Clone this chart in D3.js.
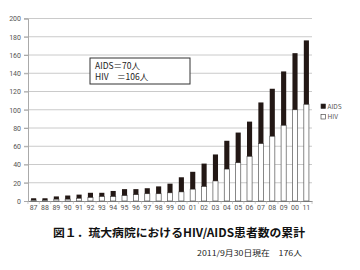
<!DOCTYPE html>
<html>
<head>
<meta charset="utf-8">
<script src="https://cdn.jsdelivr.net/npm/d3@7"></script>
<style>
  body { margin: 0; background: #fff; }
  svg text { font-family: "Noto Sans CJK JP", "Noto Sans", sans-serif; }
</style>
</head>
<body>
<svg id="chart" width="360" height="270"></svg>
<script>
// year labels (the 2010 column is labelled "00" in the original too)
var years = ["87","88","89","90","91","92","93","94","95","96","97","98","99",
             "00","01","02","03","04","05","06","07","08","09","00b","11"];
var hiv  = [1, 1, 2, 2, 3, 4, 5, 5, 6, 7, 8, 8, 9, 10, 13, 16, 22, 35, 42, 49, 63, 71, 83, 100, 106];
var aids = [2, 2, 3, 4, 4, 5, 4, 6, 7, 6, 6, 8, 10, 16, 19, 25, 29, 31, 33, 38, 45, 52, 59, 62, 70];
var yTicks = [0, 20, 40, 60, 80, 100, 120, 140, 160, 180, 200];

var svg = d3.select("#chart");
var margin = {top: 18.5, left: 28, right: 48, bottom: 69};
var width = 360 - margin.left - margin.right,
    height = 270 - margin.top - margin.bottom;

var g = svg.append("g")
  .attr("transform", "translate(" + margin.left + "," + margin.top + ")");

var x = d3.scaleBand().domain(years).range([0, width]).paddingInner(0.55).paddingOuter(0.27);
var y = d3.scaleLinear().domain([0, 200]).range([height, 0]);

// gridlines
g.selectAll("line.grid")
  .data(yTicks.slice(1))
  .enter().append("line")
  .attr("class", "grid")
  .attr("x1", -4).attr("x2", width)
  .attr("y1", function(d) { return y(d); })
  .attr("y2", function(d) { return y(d); })
  .attr("stroke", "#bdbdbd").attr("stroke-width", 0.8);

// y axis
var yAxis = g.append("g").call(d3.axisLeft(y).tickValues(yTicks).tickSize(4).tickPadding(3));
yAxis.select(".domain").attr("stroke", "#aaa");
yAxis.selectAll(".tick line").attr("stroke", "#aaa");
yAxis.selectAll("text").attr("fill", "#555").style("font-size", "7px").style("font-family", "Roboto, sans-serif");

// x axis
var xAxis = g.append("g")
  .attr("transform", "translate(0," + height + ")")
  .call(d3.axisBottom(x).tickSize(0).tickPadding(4)
    .tickFormat(function(d) { return d.slice(0, 2); }));
xAxis.select(".domain").attr("stroke", "#888");
xAxis.selectAll("text").attr("fill", "#555").style("font-size", "7px").style("font-family", "Roboto, sans-serif");

// small ticks between categories
var step = x.step();
g.selectAll("line.xt")
  .data(years.concat(["end"]))
  .enter().append("line")
  .attr("class", "xt")
  .attr("x1", function(d, i) { return x(years[0]) - x.bandwidth() * 0 - (step - x.bandwidth()) / 2 + i * step; })
  .attr("x2", function(d, i) { return x(years[0]) - (step - x.bandwidth()) / 2 + i * step; })
  .attr("y1", height).attr("y2", height + 3)
  .attr("stroke", "#aaa").attr("stroke-width", 0.6);

// HIV (white) bars
g.selectAll("rect.hiv")
  .data(years)
  .enter().append("rect")
  .attr("class", "hiv")
  .attr("x", function(d) { return x(d); })
  .attr("width", x.bandwidth())
  .attr("y", function(d, i) { return y(hiv[i]); })
  .attr("height", function(d, i) { return y(0) - y(hiv[i]); })
  .attr("fill", "#fff").attr("stroke", "#555").attr("stroke-width", 0.7);

// AIDS (black) bars stacked on top
g.selectAll("rect.aids")
  .data(years)
  .enter().append("rect")
  .attr("class", "aids")
  .attr("x", function(d) { return x(d); })
  .attr("width", x.bandwidth())
  .attr("y", function(d, i) { return y(hiv[i] + aids[i]); })
  .attr("height", function(d, i) { return y(hiv[i]) - y(hiv[i] + aids[i]); })
  .attr("fill", "#231815");

// info box
var box = svg.append("g").attr("transform", "translate(90,58)");
box.append("rect").attr("width", 100).attr("height", 26)
  .attr("fill", "#fff").attr("stroke", "#333").attr("stroke-width", 1);
box.append("text").attr("x", 5).attr("y", 11).attr("font-size", 8.5).attr("fill", "#222")
  .text("AIDS＝" + d3.sum(aids.slice(-1)) + "人");
box.append("text").attr("x", 5).attr("y", 22).attr("font-size", 8.5).attr("fill", "#222")
  .text("HIV　＝" + hiv[hiv.length - 1] + "人");

// legend
var legend = svg.append("g").attr("transform", "translate(321,104)");
[["AIDS", "#231815"], ["HIV", "#fff"]].forEach(function(d, i) {
  legend.append("rect").attr("x", 0).attr("y", i * 10.5).attr("width", 4.5).attr("height", 4.5)
    .attr("fill", d[1]).attr("stroke", "#333").attr("stroke-width", 0.6);
  legend.append("text").attr("x", 6.5).attr("y", i * 10.5 + 4.8)
    .attr("font-size", 6.5).attr("fill", "#555").text(d[0]);
});

// title
svg.append("text").attr("x", 53).attr("y", 237)
  .attr("font-size", 11.5).attr("font-weight", "bold").attr("fill", "#111")
  .attr("textLength", 252).attr("lengthAdjust", "spacingAndGlyphs")
  .text("図１．琉大病院におけるHIV/AIDS患者数の累計");
svg.append("text").attr("x", 197).attr("y", 256)
  .attr("font-size", 7.5).attr("fill", "#222")
  .attr("textLength", 105).attr("lengthAdjust", "spacingAndGlyphs")
  .text("2011/9月30日現在　" + (hiv[hiv.length - 1] + aids[aids.length - 1]) + "人");
</script>
</body>
</html>
